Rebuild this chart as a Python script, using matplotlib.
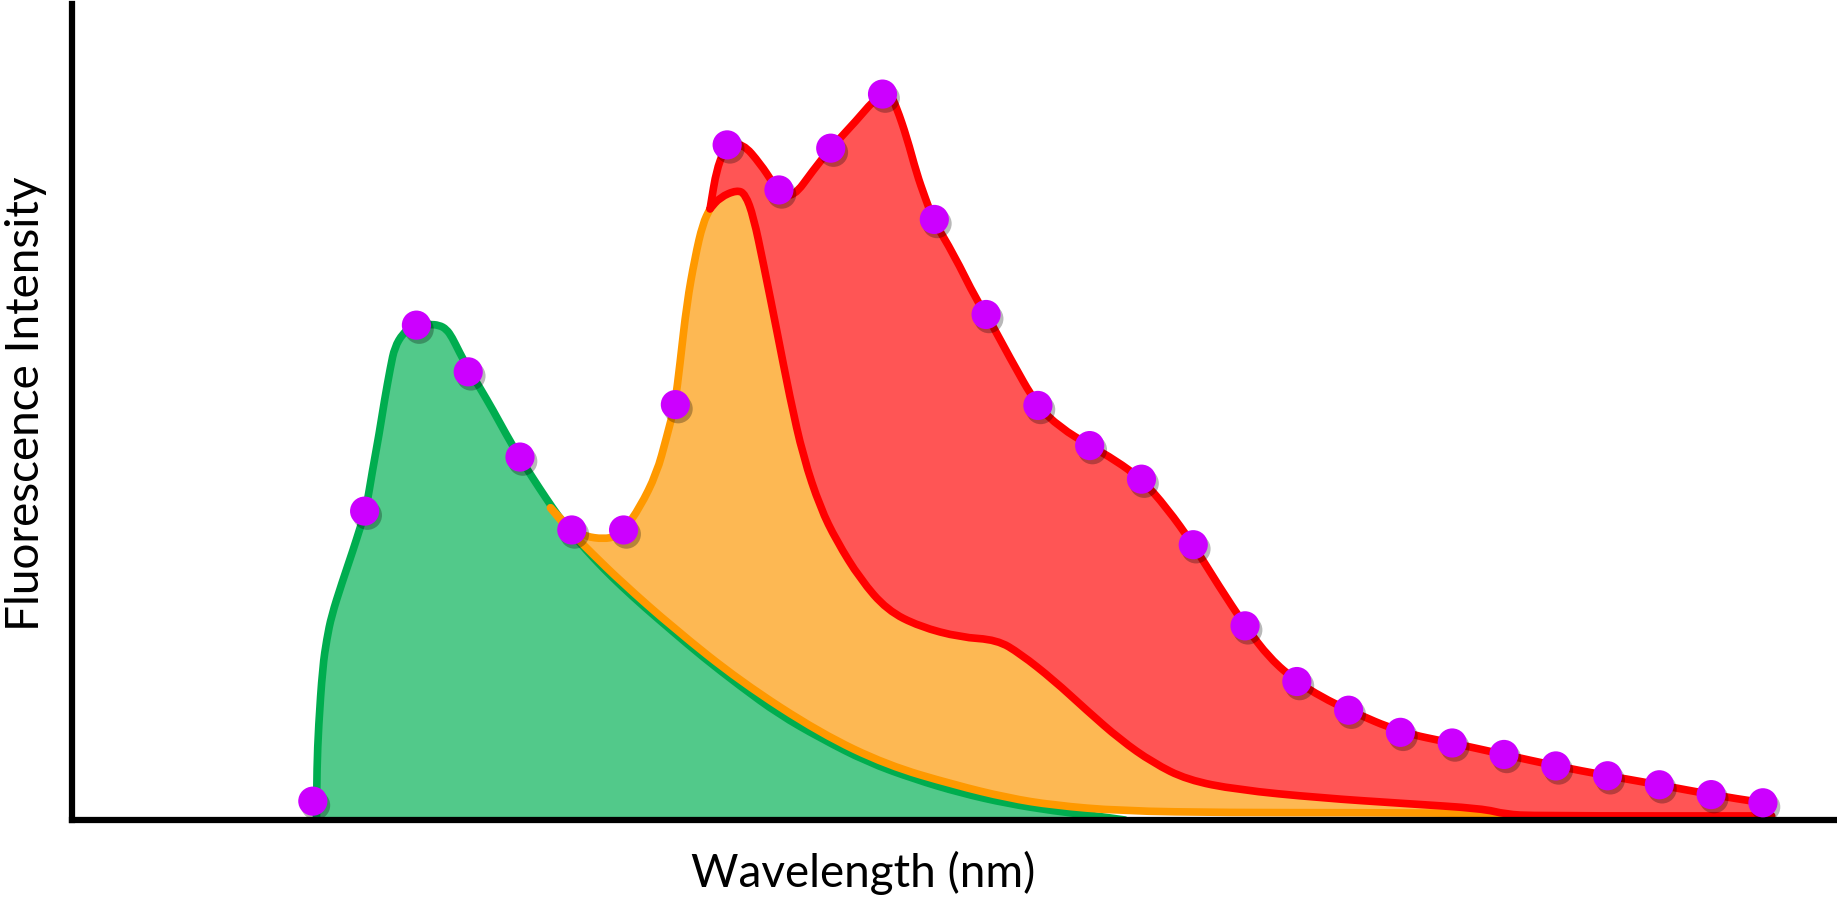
import numpy as np
import matplotlib
matplotlib.use("Agg")
import matplotlib.pyplot as plt
import matplotlib.patheffects as pe
from matplotlib.path import Path
from matplotlib.patches import PathPatch

# --- spectra (wavelength in nm, intensity in a.u.) ---
green_x = [440.7, 440.8, 441.1, 441.9, 442.7, 443.6, 445.6, 447.8, 449.0, 450.3,
           451.5, 452.8, 453.8, 455.0, 455.8, 457.4, 458.8, 460.1, 462.4, 464.4,
           465.8, 466.9, 468.3, 470.0, 472.4, 474.8, 477.3, 479.8, 482.5, 485.0,
           487.5, 490.0, 492.7, 496.1, 499.5, 504.0, 509.7, 515.3, 522.6, 530.0,
           538.0, 547.0, 556.1, 565.1, 574.2, 583.2, 590.0, 596.8]
green_y = [0.0, 6.4, 11.4, 18.7, 22.1, 24.9, 28.9, 33.0, 35.4, 38.0,
           42.6, 47.1, 51.1, 55.3, 57.7, 59.4, 60.0, 60.4, 60.5, 60.4,
           59.9, 58.9, 57.1, 55.1, 52.6, 50.0, 47.1, 44.4, 41.7, 39.3,
           37.0, 35.0, 33.0, 30.7, 28.6, 26.0, 22.9, 19.9, 16.3, 12.9,
           10.0, 7.1, 5.0, 3.3, 2.0, 1.1, 0.6, 0.0]

# orange spectrum: rising edge (up to where the red takes over) and its base
orange_rise_x = [485.9, 488.0, 490.0, 492.7, 496.1, 498.6, 500.3, 503.1, 506.4,
                 508.3, 509.9, 510.9, 512.2, 513.8, 515.3, 516.7]
orange_rise_y = [38.1, 36.7, 35.4, 34.6, 34.3, 34.6, 35.6, 38.1, 42.3,
                 46.7, 50.6, 55.7, 63.0, 68.7, 72.8, 74.6]
orange_base_x = [485.9, 488.2, 490.5, 493.8, 499.5, 509.7, 522.6, 538.0, 550.9,
                 563.8, 574.2, 583.0, 595.9, 617.1, 639.8, 670.3]
orange_base_y = [38.1, 36.3, 34.7, 32.6, 29.1, 23.4, 16.9, 10.6, 6.7,
                 4.3, 2.7, 1.8, 1.1, 0.9, 0.9, 0.8]

# red spectrum: inner boundary (top of orange) and outer envelope
red_inner_x = [516.7, 518.6, 521.9, 523.5, 525.1, 527.0, 529.6, 532.1, 534.7,
               538.0, 541.1, 545.7, 550.9, 557.2, 565.0, 572.1, 576.6, 583.0,
               589.4, 595.9, 602.2, 608.8, 618.4, 634.5, 651.1, 665.8, 670.3,
               676.0, 721.7]
red_inner_y = [74.6, 76.0, 76.9, 76.4, 73.6, 67.9, 59.7, 51.6, 44.3,
               38.1, 34.1, 29.4, 25.6, 23.6, 22.3, 22.0, 20.3, 17.1,
               13.4, 9.8, 7.0, 4.9, 3.7, 2.7, 2.0, 1.4, 0.7,
               0.5, 0.5]
red_env_x = [516.7, 518.0, 519.9, 523.0, 526.4, 528.9, 530.0, 532.8, 536.6,
             540.0, 545.0, 548.1, 550.0, 551.5, 552.7, 554.7, 556.6, 558.2,
             559.9, 563.7, 568.2, 570.1, 574.6, 579.8, 584.3, 590.0, 595.0,
             600.0, 604.9, 610.0, 614.9, 620.0, 624.8, 630.0, 634.8, 640.0,
             650.0, 660.0, 670.0, 680.0, 690.0, 700.0, 710.0, 720.0, 721.7]
red_env_y = [74.6, 79.6, 82.3, 82.6, 80.1, 77.7, 76.6, 76.0, 79.3,
             82.0, 85.4, 87.7, 88.6, 88.6, 87.0, 83.3, 78.9, 76.0,
             73.1, 69.1, 63.4, 61.7, 56.4, 50.6, 47.9, 45.7, 43.9,
             41.6, 38.1, 33.6, 28.6, 23.7, 19.7, 16.9, 15.0, 13.4,
             10.7, 9.4, 8.0, 6.6, 5.4, 4.3, 3.1, 2.1, 2.0]

# sampled points on the combined envelope
dot_x = [440, 450, 460, 470, 480, 490, 500, 510, 520, 530, 540, 550, 560, 570, 580,
         590, 600, 610, 620, 630, 640, 650, 660, 670, 680, 690, 700, 710, 720]
dot_y = [2.3, 37.7, 60.4, 54.7, 44.3, 35.4, 35.4, 50.7, 82.4, 76.9, 82.0, 88.6, 73.3,
         61.7, 50.6, 45.7, 41.6, 33.6, 23.7, 16.9, 13.4, 10.7, 9.4, 8.0, 6.6, 5.4,
         4.3, 3.1, 2.1]

GREEN_FILL, GREEN_LINE = "#52C98A", "#00AD4F"
ORANGE_FILL, ORANGE_LINE = "#FDB853", "#FF9900"
RED_FILL, RED_LINE = "#FF5555", "#FF0000"
DOT = "#CC00FF"
LW = 5.5


def smooth(x, y):
    """quadratic bezier path through the midpoints, controls at the read points"""
    pts = np.column_stack([x, y]).astype(float)
    verts, codes = [pts[0]], [Path.MOVETO]
    if len(pts) > 2:
        mids = (pts[:-1] + pts[1:]) / 2
        verts.append(mids[0]); codes.append(Path.LINETO)
        for i in range(1, len(pts) - 1):
            verts += [pts[i], mids[i]]
            codes += [Path.CURVE3, Path.CURVE3]
    verts.append(pts[-1]); codes.append(Path.LINETO)
    return verts, codes


def region(*pieces):
    verts, codes = [], []
    for k, (x, y) in enumerate(pieces):
        v, c = smooth(x, y)
        if k > 0:
            c[0] = Path.LINETO
        verts += v; codes += c
    verts.append(verts[0]); codes.append(Path.CLOSEPOLY)
    return Path(verts, codes)


def outline(ax, x, y, color, z):
    v, c = smooth(x, y)
    ax.add_patch(PathPatch(Path(v, c), fill=False, edgecolor=color, lw=LW,
                           joinstyle="round", capstyle="round", zorder=z))


fig = plt.figure(figsize=(18.37, 9.01), dpi=100)
ax = fig.add_axes([0.0392, 0.0899, 0.9608, 0.9057])

# green
ax.add_patch(PathPatch(region((green_x, green_y)), facecolor=GREEN_FILL,
                       edgecolor="none", zorder=1))
outline(ax, green_x, green_y, GREEN_LINE, 2)

# orange region: rising edge + red inner boundary on top, its own base below
ri_x = np.array(red_inner_x)
ri_y = np.array(red_inner_y)
keep = ri_x <= orange_base_x[-1]
ax.add_patch(PathPatch(region((orange_rise_x, orange_rise_y),
                              (ri_x[keep][1:], ri_y[keep][1:]),
                              (orange_base_x[::-1], orange_base_y[::-1])),
                       facecolor=ORANGE_FILL, edgecolor="none", zorder=3))
outline(ax, orange_rise_x, orange_rise_y, ORANGE_LINE, 4)
outline(ax, orange_base_x, orange_base_y, ORANGE_LINE, 4)

# red region between inner boundary and envelope
ax.add_patch(PathPatch(region((red_env_x, red_env_y), (ri_x[::-1], ri_y[::-1])),
                       facecolor=RED_FILL, edgecolor="none", zorder=5))
outline(ax, red_inner_x, red_inner_y, RED_LINE, 6)
outline(ax, red_env_x, red_env_y, RED_LINE, 6)

# dots with a soft drop shadow
ax.plot(dot_x, dot_y, "o", ms=21, color=DOT, mec="none", zorder=8, clip_on=False,
        path_effects=[pe.SimplePatchShadow(offset=(2, -3), shadow_rgbFace="black", alpha=0.28),
                      pe.Normal()])

ax.set_xlim(393.5, 734.3)
ax.set_ylim(0, 99.6)
ax.set_xticks([])
ax.set_yticks([])
for side in ["top", "right"]:
    ax.spines[side].set_visible(False)
for side in ["left", "bottom"]:
    ax.spines[side].set_linewidth(4.5)
    ax.spines[side].set_capstyle("projecting")
    ax.spines[side].set_zorder(7)

font = ["Lato", "DejaVu Sans"]
fig.text(0.4698, 0.0311, "Wavelength (nm)", ha="center", va="center",
         fontsize=33, family=font)
fig.text(0.0141, 0.5516, "Fluorescence Intensity", ha="center", va="center",
         rotation=90, fontsize=33, family=font)

fig.savefig("out.png", dpi=100)
